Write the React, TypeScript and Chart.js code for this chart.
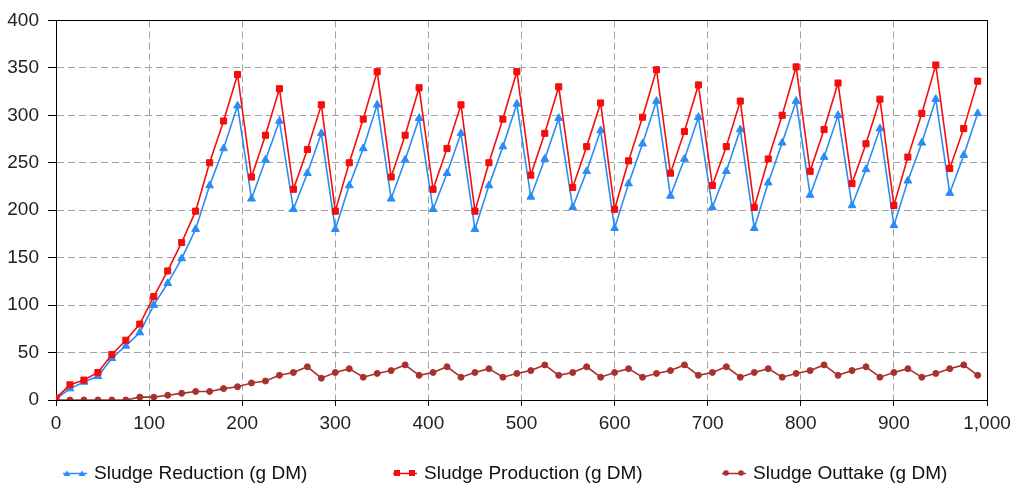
import { useEffect, useRef } from 'react';
import { Chart, ChartConfiguration, registerables } from 'chart.js';

Chart.register(...registerables);

// time axis (days), one sample every 15 days
const days = [
  0, 15, 30, 45, 60, 75, 90, 105, 120, 135, 150, 165, 180, 195, 210, 225, 240,
  255, 270, 285, 300, 315, 330, 345, 360, 375, 390, 405, 420, 435, 450, 465,
  480, 495, 510, 525, 540, 555, 570, 585, 600, 615, 630, 645, 660, 675, 690,
  705, 720, 735, 750, 765, 780, 795, 810, 825, 840, 855, 870, 885, 900, 915,
  930, 945, 960, 975, 990,
];

const sludgeReduction = [
  1, 12, 19, 25, 44, 57, 71, 100, 123, 149, 180, 226, 265, 310, 212, 253, 294,
  201, 239, 281, 180, 226, 265, 311, 212, 253, 297, 201, 239, 281, 180, 226,
  267, 312, 214, 254, 297, 203, 241, 284, 181, 228, 270, 315, 215, 254, 298,
  203, 241, 285, 181, 229, 271, 315, 216, 256, 300, 205, 243, 286, 184, 231,
  271, 317, 218, 258, 302,
];

const sludgeProduction = [
  2, 16, 21, 29, 48, 63, 80, 109, 136, 166, 199, 250, 294, 343, 235, 279, 328,
  222, 264, 311, 199, 250, 296, 346, 235, 279, 329, 222, 265, 311, 199, 250,
  296, 346, 237, 281, 330, 224, 267, 313, 201, 252, 298, 348, 239, 283, 332,
  226, 267, 315, 203, 254, 300, 351, 241, 285, 334, 228, 270, 317, 205, 256,
  302, 353, 244, 286, 336,
];

const sludgeOuttake = [
  0, 0, 0, 0, 0, 0, 3, 3, 5, 7, 9, 9, 12, 14, 18, 20, 26,
  29, 35, 23, 29, 33, 24, 28, 31, 37, 26, 29, 35, 24, 29, 33,
  24, 28, 31, 37, 26, 29, 35, 24, 29, 33, 24, 28, 31, 37, 26,
  29, 35, 24, 29, 33, 24, 28, 31, 37, 26, 31, 35, 24, 29, 33,
  24, 28, 33, 37, 26,
];

const seriesLabels = ['Sludge Reduction (g DM)', 'Sludge Production (g DM)', 'Sludge Outtake (g DM)'];

const BLUE = '#2a8cf5';
const RED = '#f50d0d';
const BROWN = '#a8302f';
const FONT = '"Liberation Sans", Arial, sans-serif';

const toPoints = (ys: number[]) => ys.map((y, i) => ({ x: days[i], y }));

// black frame around the plot area
const framePlugin = {
  id: 'frame',
  beforeDatasetsDraw(chart: Chart) {
    const { ctx, chartArea } = chart;
    ctx.save();
    ctx.strokeStyle = '#000';
    ctx.lineWidth = 1;
    ctx.strokeRect(
      Math.round(chartArea.left) + 0.5,
      Math.round(chartArea.top) + 0.5,
      Math.round(chartArea.right - chartArea.left),
      Math.round(chartArea.bottom - chartArea.top)
    );
    ctx.restore();
  },
};

function LegendIcon({ color, shape }: { color: string; shape: 'triangle' | 'square' | 'circle' }) {
  const marker = (cx: number) => {
    if (shape === 'triangle') return <polygon key={cx} points={`${cx - 3.5},8 ${cx + 3.5},8 ${cx},2.5`} fill={color} />;
    if (shape === 'square') return <rect key={cx} x={cx - 3} y={2} width={6} height={6} fill={color} />;
    return <circle key={cx} cx={cx} cy={5} r={2.8} fill={color} />;
  };
  return (
    <svg width={26} height={10} style={{ display: 'block' }}>
      <line x1={1} y1={5.5} x2={25} y2={5.5} stroke={color} strokeWidth={1.5} />
      {marker(5)}
      {marker(20)}
    </svg>
  );
}

export default function App() {
  const canvasRef = useRef<HTMLCanvasElement>(null);
  const chartRef = useRef<Chart | null>(null);

  useEffect(() => {
    if (!canvasRef.current) return;
    if (chartRef.current) chartRef.current.destroy();

    const config: ChartConfiguration<'line'> = {
      type: 'line',
      data: {
        datasets: [
          {
            label: seriesLabels[0],
            data: toPoints(sludgeReduction),
            borderColor: BLUE,
            backgroundColor: BLUE,
            pointStyle: 'triangle',
            pointRadius: 4.5,
            pointBorderWidth: 1,
            borderWidth: 1.6,
            order: 1,
          },
          {
            label: seriesLabels[1],
            data: toPoints(sludgeProduction),
            borderColor: RED,
            backgroundColor: RED,
            pointStyle: 'rect',
            pointRadius: 4.3,
            pointBorderWidth: 1,
            borderWidth: 1.6,
            order: 0,
          },
          {
            label: seriesLabels[2],
            data: toPoints(sludgeOuttake),
            borderColor: BROWN,
            backgroundColor: BROWN,
            pointStyle: 'circle',
            pointRadius: 3,
            pointBorderWidth: 1,
            borderWidth: 1.6,
            order: 2,
          },
        ],
      },
      options: {
        animation: false,
        responsive: true,
        maintainAspectRatio: false,
        layout: { padding: { left: 0, right: 37, top: 16, bottom: 54 } },
        plugins: { legend: { display: false }, tooltip: { enabled: false } },
        scales: {
          x: {
            type: 'linear',
            min: 0,
            max: 1000,
            afterFit: (s) => { s.height = 40; },
            ticks: { stepSize: 100, color: '#222', font: { family: FONT, size: 19 }, padding: 6, maxRotation: 0 },
            grid: { color: '#a3a3a3', tickColor: '#000', tickLength: 6 },
            border: { color: '#000', width: 1, dash: [7, 4] },
          },
          y: {
            min: 0,
            max: 400,
            afterFit: (s) => { s.width = 56; },
            ticks: { stepSize: 50, color: '#222', font: { family: FONT, size: 19 }, padding: 9 },
            grid: { color: '#a3a3a3', tickColor: '#000', tickLength: 8 },
            border: { color: '#000', width: 1, dash: [7, 4] },
          },
        },
      },
      plugins: [framePlugin],
    };

    chartRef.current = new Chart(canvasRef.current, config);
    return () => {
      chartRef.current?.destroy();
      chartRef.current = null;
    };
  }, []);

  const legendItems = [
    { label: seriesLabels[0], color: BLUE, shape: 'triangle' as const, left: 62 },
    { label: seriesLabels[1], color: RED, shape: 'square' as const, left: 392 },
    { label: seriesLabels[2], color: BROWN, shape: 'circle' as const, left: 721 },
  ];

  return (
    <div style={{ position: 'fixed', left: 0, top: 0, width: 1024, height: 494, background: '#fff' }}>
      <canvas ref={canvasRef}></canvas>
      {legendItems.map((it) => (
        <div
          key={it.label}
          style={{
            position: 'absolute',
            left: it.left,
            top: 461,
            height: 24,
            display: 'flex',
            alignItems: 'center',
            gap: 6,
            fontFamily: FONT,
            fontSize: 19,
            color: '#111',
            whiteSpace: 'nowrap',
          }}
        >
          <LegendIcon color={it.color} shape={it.shape} />
          <span>{it.label}</span>
        </div>
      ))}
    </div>
  );
}
